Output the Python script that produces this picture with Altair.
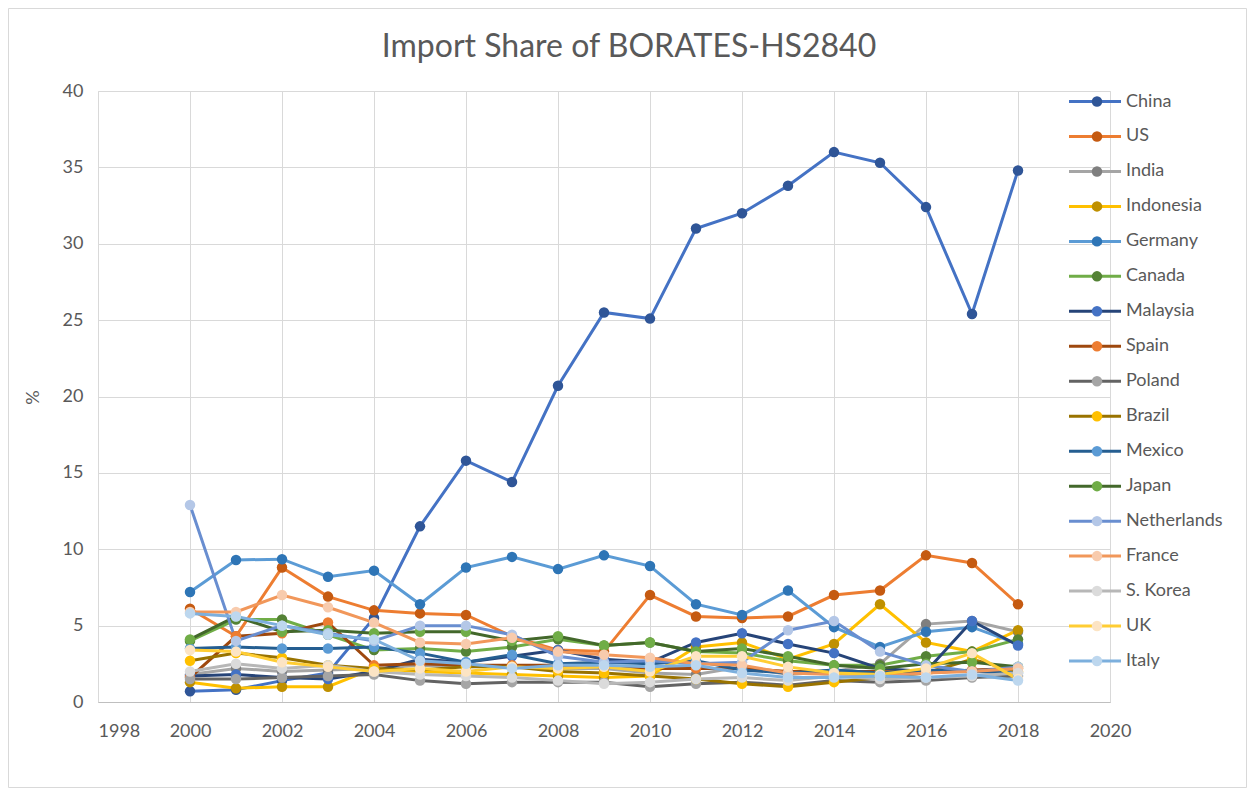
import altair as alt
import pandas as pd

years = list(range(2000, 2019))

countries = ["China", "US", "India", "Indonesia", "Germany", "Canada", "Malaysia",
             "Spain", "Poland", "Brazil", "Mexico", "Japan", "Netherlands",
             "France", "S. Korea", "UK", "Italy"]

line_colors = ["#4472C4", "#ED7D31", "#A5A5A5", "#FFC000", "#5B9BD5", "#70AD47",
               "#264478", "#9E480E", "#636363", "#997300", "#255E91", "#43682B",
               "#698ED0", "#F1975A", "#B7B7B7", "#FFCD33", "#7CAFDD"]
marker_colors = ["#2F5597", "#C55A11", "#7F7F7F", "#BF9000", "#2E75B6", "#548235",
                 "#4472C4", "#ED7D31", "#A5A5A5", "#FFC000", "#5B9BD5", "#70AD47",
                 "#B4C7E7", "#F8CBAD", "#DBDBDB", "#FCE4C4", "#BDD7EE"]

china       = [0.7, 0.8, 1.4, 1.9, 5.5, 11.5, 15.8, 14.4, 20.7, 25.5, 25.1, 31.0, 32.0, 33.8, 36.0, 35.3, 32.4, 25.4, 34.8]
us          = [6.1, 4.3, 8.8, 6.9, 6.0, 5.8, 5.7, 4.3, 3.4, 3.3, 7.0, 5.6, 5.5, 5.6, 7.0, 7.3, 9.6, 9.1, 6.4]
india       = [1.8, 2.2, 2.0, 2.1, 2.2, 2.4, 2.3, 2.4, 2.2, 2.2, 1.9, 1.8, 2.3, 1.8, 2.0, 2.5, 5.1, 5.3, 4.6]
indonesia   = [1.3, 0.9, 1.0, 1.0, 2.2, 2.0, 1.9, 1.8, 1.7, 1.6, 1.7, 3.6, 3.9, 2.8, 3.8, 6.4, 3.9, 3.3, 4.7]
germany     = [7.2, 9.3, 9.35, 8.2, 8.6, 6.4, 8.8, 9.5, 8.7, 9.6, 8.9, 6.4, 5.7, 7.3, 4.9, 3.6, 4.6, 4.9, 3.8]
canada      = [4.0, 5.4, 5.4, 4.4, 3.4, 3.5, 3.3, 3.6, 4.1, 3.7, 3.9, 3.3, 3.2, 2.7, 2.4, 2.4, 3.0, 3.3, 4.1]
malaysia    = [1.7, 1.8, 1.6, 1.5, 2.0, 2.8, 2.6, 3.0, 3.4, 2.8, 2.6, 3.9, 4.5, 3.8, 3.2, 2.2, 2.0, 5.3, 3.7]
spain       = [1.6, 4.3, 4.5, 5.2, 2.4, 2.5, 2.4, 2.4, 2.4, 2.3, 2.2, 2.2, 2.2, 2.0, 2.0, 2.0, 1.9, 2.1, 2.2]
poland      = [1.5, 1.5, 1.6, 1.7, 1.8, 1.4, 1.2, 1.3, 1.3, 1.3, 1.0, 1.2, 1.3, 1.1, 1.4, 1.3, 1.4, 1.6, 1.7]
brazil      = [2.7, 3.2, 2.9, 2.4, 2.2, 2.1, 2.3, 2.3, 2.0, 1.9, 1.7, 1.5, 1.2, 1.0, 1.3, 1.6, 1.9, 2.8, 2.0]
mexico      = [3.5, 3.6, 3.5, 3.5, 3.6, 3.2, 2.6, 3.1, 2.5, 2.6, 2.5, 2.7, 2.1, 1.9, 2.1, 1.9, 2.1, 2.0, 1.9]
japan       = [4.1, 5.6, 4.6, 4.7, 4.5, 4.6, 4.6, 4.0, 4.3, 3.7, 3.9, 3.3, 3.5, 3.0, 2.4, 2.2, 2.5, 2.6, 2.3]
netherlands = [12.9, 4.0, 5.0, 4.5, 4.0, 5.0, 5.0, 4.4, 3.0, 2.6, 2.7, 2.5, 2.6, 4.7, 5.3, 3.3, 2.4, 2.0, 2.3]
france      = [5.9, 5.9, 7.0, 6.2, 5.2, 3.9, 3.8, 4.2, 3.3, 3.1, 2.9, 2.5, 2.4, 1.9, 1.8, 1.7, 1.9, 2.0, 2.2]
skorea      = [2.0, 2.5, 2.2, 2.4, 2.0, 1.8, 1.7, 1.6, 1.4, 1.2, 1.3, 1.5, 1.6, 1.4, 1.7, 1.5, 1.6, 1.7, 1.9]
uk          = [3.4, 3.3, 2.6, 2.3, 2.0, 2.2, 2.0, 2.3, 2.2, 2.3, 2.0, 3.0, 3.0, 2.3, 1.9, 1.8, 2.2, 3.2, 1.5]
italy       = [5.8, 5.6, 5.0, 4.4, 4.1, 2.7, 2.5, 2.2, 2.4, 2.4, 2.3, 2.4, 1.9, 1.6, 1.6, 1.7, 1.6, 1.8, 1.4]

series = [china, us, india, indonesia, germany, canada, malaysia, spain, poland,
          brazil, mexico, japan, netherlands, france, skorea, uk, italy]

rows = []
for i, (name, vals) in enumerate(zip(countries, series)):
    for yr, v in zip(years, vals):
        rows.append({"Country": name, "Year": yr, "Share": v, "order": i})
df = pd.DataFrame(rows)
legend_df = pd.DataFrame({"Country": countries, "idx": list(range(len(countries)))})

FONT = "Lato"
TXT = "#595959"
GRID = "#D9D9D9"

line_scale = alt.Scale(domain=countries, range=line_colors)
marker_scale = alt.Scale(domain=countries, range=marker_colors)

x_enc = alt.X("Year:Q",
              scale=alt.Scale(domain=[1998, 2020], nice=False, zero=False),
              axis=alt.Axis(values=list(range(1998, 2021, 2)), format="d", title=None,
                            grid=True, gridColor=GRID, gridWidth=1,
                            domainColor="#BFBFBF", domainWidth=1,
                            ticks=False, tickSize=0, labelPadding=20,
                            labelFont=FONT, labelFontSize=18, labelColor=TXT,
                            labelAlign=alt.condition("datum.value == 1998", alt.value("left"), alt.value("center"))))
y_enc = alt.Y("Share:Q",
              scale=alt.Scale(domain=[0, 40], nice=False),
              axis=alt.Axis(values=list(range(0, 41, 5)), title="%",
                            grid=True, gridColor=GRID, gridWidth=1,
                            domain=False, ticks=False, tickSize=0, labelPadding=15,
                            labelFont=FONT, labelFontSize=18, labelColor=TXT,
                            titleFont=FONT, titleFontSize=18, titleColor=TXT,
                            titleFontWeight="normal", titleAngle=270,
                            titleBaseline="bottom", titleAlign="center",
                            titleX=-56, titleY=306))

lines = alt.Chart(df).mark_line(strokeWidth=3).encode(
    x=x_enc, y=y_enc,
    color=alt.Color("Country:N", scale=line_scale, legend=None),
    order=alt.Order("Year:Q"),
)
points = alt.Chart(df).mark_circle(size=110, opacity=1).encode(
    x=x_enc, y=y_enc,
    fill=alt.Fill("Country:N", scale=marker_scale, legend=None),
)
main = alt.layer(lines, points)

ly = alt.Y("idx:Q", scale=alt.Scale(domain=[0, 16], range=[10.5, 570]), axis=None)
leg_rule = alt.Chart(legend_df).mark_rule(strokeWidth=3).encode(
    x=alt.value(971), x2=alt.value(1023), y=ly,
    color=alt.Color("Country:N", scale=line_scale, legend=None),
)
leg_pt = alt.Chart(legend_df).mark_circle(size=110, opacity=1).encode(
    x=alt.value(999), y=ly,
    fill=alt.Fill("Country:N", scale=marker_scale, legend=None),
)
leg_txt = alt.Chart(legend_df).mark_text(align="left", baseline="middle", font=FONT,
                                         fontSize=18, color=TXT).encode(
    x=alt.value(1028), y=ly, text="Country:N",
)
legend = alt.layer(leg_rule, leg_pt, leg_txt)

frame = alt.Chart(alt.Data(values=[{"a": 1}])).mark_rect(
    filled=False, stroke="#D9D9D9", strokeWidth=1
).encode(x=alt.value(-89.5), x2=alt.value(1148.5), y=alt.value(-82.5), y2=alt.value(696.5))

chart = alt.layer(frame, main, legend).resolve_scale(y="independent").properties(
    width=1012, height=611,
    autosize=alt.AutoSizeParams(type="none"),
    padding={"left": 90, "top": 83, "right": 137, "bottom": 86},
    title=alt.TitleParams("Import Share of BORATES-HS2840", font=FONT, fontSize=32,
                          fontWeight="normal", color=TXT, anchor="middle",
                          frame="group", baseline="bottom", offset=-88, dx=25),
).configure_view(stroke=None).configure(background="white")

chart.save("out.html", embed_options={"renderer": "svg", "actions": False})
